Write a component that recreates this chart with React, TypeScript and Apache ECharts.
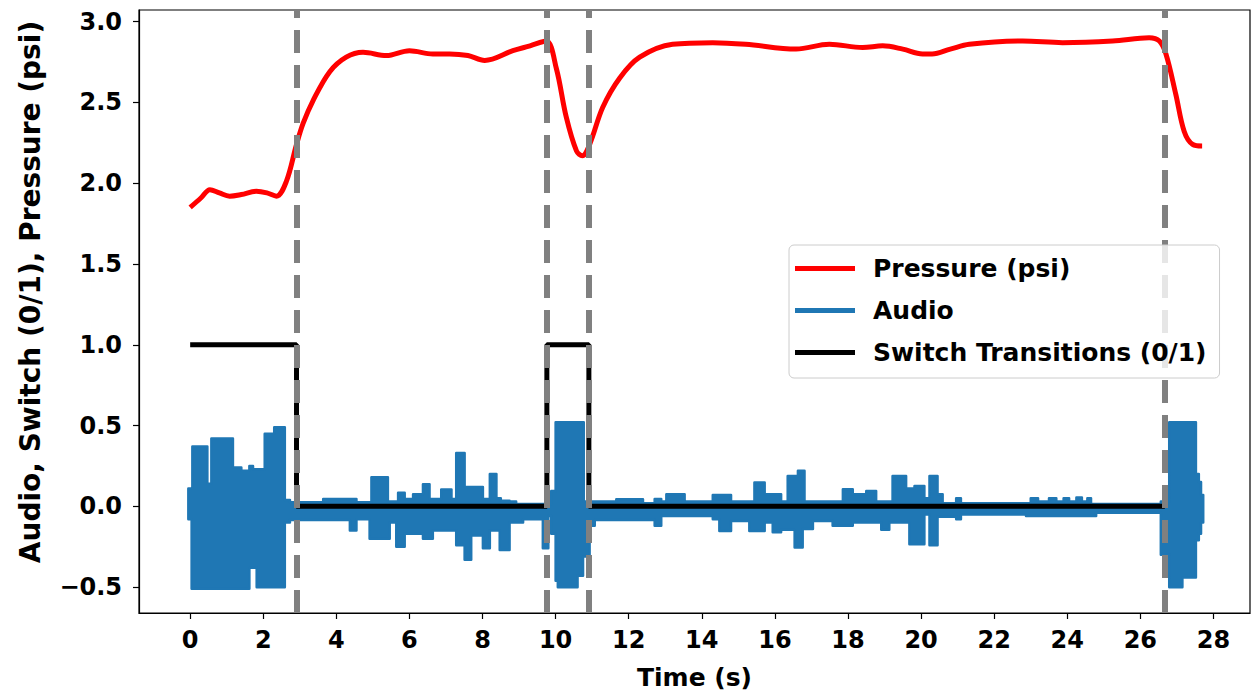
import React, { useEffect, useRef } from "react";
import * as echarts from "echarts";

// ---- data ----
const transitionTimes = [2.91, 9.76, 10.91, 26.67];

// switch state: value holds from this time until the next time
const switchT = [0, 2.91, 9.76, 10.91, 26.67];
const switchV = [1, 0, 1, 0, 0];

const pressureT = [0, 0.3, 0.54, 0.8, 1.08, 1.4, 1.81, 2.1, 2.36, 2.63, 2.91, 3.09, 3.36, 3.82, 4.27, 4.73, 5.37, 6.0, 6.64, 7.1, 7.6, 8.06, 8.83, 9.3, 9.74, 10.02, 10.29, 10.57, 10.73, 10.93, 11.29, 11.75, 12.3, 13.2, 14.3, 15.2, 16.58, 17.49, 18.4, 18.95, 19.5, 20.04, 20.3, 20.8, 21.32, 22.78, 23.87, 25.24, 26.24, 26.52, 26.7, 26.97, 27.2, 27.43, 27.69];
const pressureV = [1.85, 1.91, 1.96, 1.94, 1.92, 1.93, 1.95, 1.94, 1.92, 2.01, 2.24, 2.37, 2.51, 2.69, 2.78, 2.81, 2.79, 2.82, 2.8, 2.8, 2.79, 2.76, 2.82, 2.85, 2.88, 2.71, 2.41, 2.2, 2.17, 2.24, 2.47, 2.65, 2.78, 2.86, 2.87, 2.86, 2.83, 2.86, 2.84, 2.85, 2.83, 2.8, 2.8, 2.83, 2.86, 2.88, 2.87, 2.88, 2.9, 2.88, 2.8, 2.55, 2.32, 2.24, 2.23];

// audio envelope (step-wise): upper
const audioHiT = [-0.05, 0.06, 0.47, 0.58, 1.17, 1.4, 1.62, 1.72, 2.04, 2.3, 2.59, 2.73, 3.64, 4.55, 4.96, 5.41, 5.69, 5.87, 6.1, 6.37, 6.55, 6.87, 7.15, 7.28, 7.51, 8.01, 8.2, 8.38, 8.5, 8.74, 8.92, 9.88, 10.0, 10.77, 11.07, 11.66, 12.39, 12.71, 12.89, 13.03, 13.53, 14.3, 14.8, 15.44, 15.72, 16.17, 16.35, 16.63, 16.81, 17.86, 18.13, 18.5, 18.77, 19.22, 19.59, 19.82, 20.09, 20.23, 20.45, 20.59, 20.96, 21.09, 23.0, 23.2, 23.5, 23.7, 23.9, 24.05, 24.25, 24.4, 24.55, 24.65, 26.56, 26.79, 27.52, 27.6, 27.66, 27.72];
const audioHiV = [0.11, 0.37, 0.14, 0.42, 0.24, 0.22, 0.25, 0.23, 0.45, 0.49, 0.04, 0.025, 0.045, 0.025, 0.18, 0.03, 0.085, 0.045, 0.075, 0.137, 0.045, 0.105, 0.045, 0.33, 0.12, 0.045, 0.2, 0.05, 0.035, 0.03, 0.015, 0.095, 0.52, 0.03, 0.03, 0.044, 0.02, 0.045, 0.03, 0.075, 0.03, 0.07, 0.03, 0.147, 0.075, 0.03, 0.188, 0.22, 0.03, 0.106, 0.075, 0.095, 0.03, 0.188, 0.11, 0.126, 0.05, 0.188, 0.075, 0.02, 0.05, 0.02, 0.05, 0.03, 0.05, 0.03, 0.05, 0.03, 0.055, 0.03, 0.05, 0.015, 0.03, 0.52, 0.2, 0.15, 0.07];
// audio envelope (step-wise): lower
const audioLoT = [-0.05, 0.04, 1.62, 1.82, 2.59, 2.73, 4.37, 4.55, 4.91, 5.46, 5.64, 5.87, 6.37, 6.64, 7.28, 7.51, 7.69, 8.01, 8.2, 8.47, 8.74, 9.11, 9.65, 9.8, 9.88, 10.0, 10.06, 10.6, 10.75, 10.93, 11.07, 12.71, 12.89, 14.3, 14.48, 14.8, 15.3, 15.72, 15.94, 16.17, 16.54, 16.76, 17.04, 17.58, 18.13, 18.91, 19.13, 19.68, 20.09, 20.23, 20.45, 20.96, 21.09, 22.87, 24.79, 26.56, 26.79, 27.15, 27.52, 27.6, 27.66, 27.72];
const audioLoV = [-0.08, -0.51, -0.38, -0.5, -0.1, -0.085, -0.15, -0.08, -0.2, -0.1, -0.25, -0.17, -0.2, -0.15, -0.24, -0.33, -0.18, -0.26, -0.15, -0.27, -0.1, -0.08, -0.26, -0.06, -0.17, -0.46, -0.5, -0.43, -0.31, -0.12, -0.085, -0.12, -0.06, -0.08, -0.152, -0.09, -0.152, -0.1, -0.16, -0.145, -0.255, -0.14, -0.09, -0.12, -0.1, -0.145, -0.1, -0.235, -0.05, -0.24, -0.065, -0.08, -0.05, -0.06, -0.04, -0.3, -0.5, -0.44, -0.21, -0.17, -0.1];

const xTicks = [0, 2, 4, 6, 8, 10, 12, 14, 16, 18, 20, 22, 24, 26, 28];
const yTicks = [-0.5, 0, 0.5, 1.0, 1.5, 2.0, 2.5, 3.0];

const FONT = '"DejaVu Sans", sans-serif';
const RED = "#ff0000";
const BLUE = "#1f77b4";

export default function App() {
  const ref = useRef<HTMLDivElement>(null);

  useEffect(() => {
    if (!ref.current) return;
    const chart = echarts.init(ref.current, undefined, { renderer: "svg" });

    const pressureData = pressureT.map((t, i) => [t, pressureV[i]]);
    const switchData = switchT.map((t, i) => [t, switchV[i]]);

    const upper: number[][] = [];
    for (let i = 0; i < audioHiV.length && i + 1 < audioHiT.length; i++) {
      upper.push([audioHiT[i], audioHiV[i]], [audioHiT[i + 1], audioHiV[i]]);
    }
    const lower: number[][] = [];
    for (let i = Math.min(audioLoV.length, audioLoT.length - 1) - 1; i >= 0; i--) {
      lower.push([audioLoT[i + 1], audioLoV[i]], [audioLoT[i], audioLoV[i]]);
    }
    const envelope = upper.concat(lower);

    const fmt = (v: number) => (v < 0 ? "\u2212" : "") + Math.abs(v).toFixed(1);

    chart.setOption({
      animation: false,
      grid: {
        left: 139,
        top: 10,
        right: 2,
        bottom: 81,
        outerBoundsMode: "none",
        containLabel: false,
        show: true,
        borderColor: "#000",
        borderWidth: 1.2,
        backgroundColor: "transparent",
      },
      xAxis: {
        type: "value",
        min: -1.4,
        max: 29.0,
        splitLine: { show: false },
        axisLine: { show: true, onZero: false, lineStyle: { color: "#000", width: 1.2 } },
        axisTick: { show: true, customValues: xTicks, length: 6, lineStyle: { color: "#000", width: 1.2 } },
        axisLabel: {
          customValues: xTicks,
          formatter: (v: number) => String(Math.round(v)),
          fontSize: 24,
          fontWeight: "bold",
          fontFamily: FONT,
          color: "#000",
          margin: 15,
        },
        name: "Time (s)",
        nameLocation: "middle",
        nameGap: 52,
        nameTextStyle: { fontSize: 25, fontWeight: "bold", fontFamily: FONT, color: "#000" },
      },
      yAxis: {
        type: "value",
        min: -0.66,
        max: 3.072,
        splitLine: { show: false },
        axisLine: { show: true, onZero: false, lineStyle: { color: "#000", width: 1.2 } },
        axisTick: { show: true, customValues: yTicks, length: 6, lineStyle: { color: "#000", width: 1.2 } },
        axisLabel: {
          customValues: yTicks,
          formatter: fmt,
          fontSize: 24,
          fontWeight: "bold",
          fontFamily: FONT,
          color: "#000",
          margin: 17,
        },
      },
      legend: {
        orient: "vertical",
        left: 789,
        top: 245,
        z: 10,
        selectedMode: false,
        icon: "rect",
        itemWidth: 60,
        itemHeight: 5,
        itemGap: 17,
        padding: [11, 13, 13, 6],
        backgroundColor: "rgba(255,255,255,0.8)",
        borderColor: "#cccccc",
        borderWidth: 1,
        borderRadius: 5,
        textStyle: {
          fontSize: 25,
          fontWeight: "bold",
          fontFamily: FONT,
          color: "#000",
          lineHeight: 25,
          padding: [0, 0, 0, 13],
        },
        data: [
          { name: "Pressure (psi)", itemStyle: { color: RED } },
          { name: "Audio", itemStyle: { color: BLUE } },
          { name: "Switch Transitions (0/1)", itemStyle: { color: "#000" } },
        ],
      },
      graphic: [
        {
          type: "text",
          x: 30,
          y: 292,
          rotation: Math.PI / 2,
          style: {
            text: "Audio, Switch (0/1), Pressure (psi)",
            fontSize: 28,
            fontWeight: "bold",
            fontFamily: FONT,
            fill: "#000",
            align: "center",
            verticalAlign: "middle",
          },
        },
      ],
      series: [
        {
          name: "Audio",
          type: "custom",
          z: 1,
          itemStyle: { color: BLUE },
          data: [[0, 0]],
          renderItem: (_params: any, api: any) => {
            const points = envelope.map((p) => api.coord(p));
            return {
              type: "polygon",
              shape: { points },
              style: { fill: BLUE, stroke: BLUE, lineWidth: 2.5, lineJoin: "round" },
            };
          },
        },
        {
          name: "Switch Transitions (0/1)",
          type: "line",
          z: 2,
          step: "end",
          showSymbol: false,
          symbol: "none",
          data: switchData,
          lineStyle: { color: "#000", width: 5 },
          itemStyle: { color: "#000" },
          markLine: {
            silent: true,
            symbol: ["none", "none"],
            label: { show: false },
            z: 5,
            lineStyle: { color: "#808080", width: 6, type: [23, 12], opacity: 1 },
            emphasis: { disabled: true },
            data: transitionTimes.map((t) => ({ xAxis: t })),
          },
        },
        {
          name: "Pressure (psi)",
          type: "line",
          z: 3,
          smooth: 0.35,
          showSymbol: false,
          symbol: "none",
          data: pressureData,
          lineStyle: { color: RED, width: 5 },
          itemStyle: { color: RED },
        },
      ],
    });

    return () => chart.dispose();
  }, []);

  return (
    <div
      ref={ref}
      style={{ position: "fixed", left: 0, top: 0, width: 1252, height: 694, background: "#fff" }}
    />
  );
}
